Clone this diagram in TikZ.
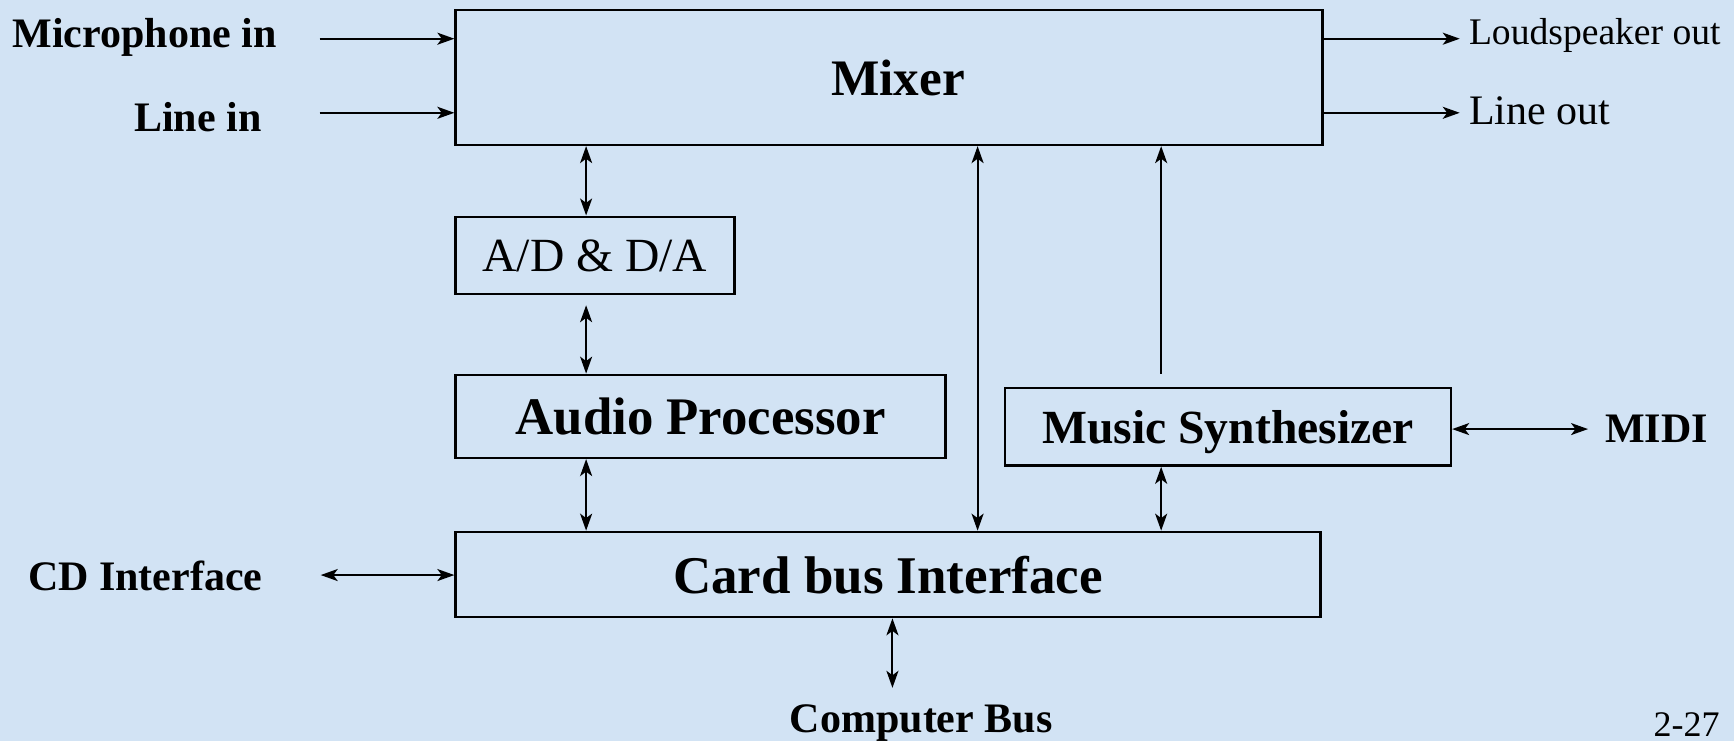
\documentclass[tikz,border=0pt]{standalone}
\usepackage{fontspec}
\setmainfont{Liberation Serif}
\usetikzlibrary{arrows.meta}
\definecolor{bgblue}{RGB}{210,227,244}
\newcommand\pxu[1]{#1*0.55293pt}
\newcommand\fsz[1]{\fontsize{#1}{#1}\selectfont}
\begin{document}
\begin{tikzpicture}[x=0.55293pt,y=-0.55293pt,
  blk/.style={draw=black,line width=1.25pt,inner sep=0pt,text depth=0pt,align=center},
  lbl/.style={inner sep=0pt,anchor=base west},
  arr/.style={line width=1pt,-{Stealth[length=8.5pt,width=6pt,inset=2.2pt]}},
  darr/.style={line width=1pt,{Stealth[length=8.5pt,width=6pt,inset=2.2pt]}-{Stealth[length=8.5pt,width=6pt,inset=2.2pt]}}]
\fill[bgblue] (0,0) rectangle (1568,670);
\useasboundingbox (0,0) rectangle (1568,670);
% boxes
\node[blk,minimum width={\pxu{784}},minimum height={\pxu{122}},font=\bfseries\fsz{25.6}] (mixer) at (804,70) {\hspace*{8.8pt}Mixer};
\node[blk,minimum width={\pxu{252}},minimum height={\pxu{70}},font=\fsz{23.8}] (adda) at (538,231) {A/D \& D/A};
\node[blk,minimum width={\pxu{443}},minimum height={\pxu{75}},font=\bfseries\fsz{26.4}] (ap) at (633.5,376.5) {Audio Processor};
\node[blk,minimum width={\pxu{403}},minimum height={\pxu{70}},font=\bfseries\fsz{23.8}] (ms) at (1110.5,386) {Music Synthesizer};
\node[blk,minimum width={\pxu{782}},minimum height={\pxu{77}},font=\bfseries\fsz{26.5}] (cb) at (803,519.5) {Card bus Interface};
% labels
\node[lbl,font=\bfseries\fsz{21}] (mic) at (11,43) {Microphone in};
\node[lbl,font=\bfseries\fsz{21}] (linein) at (121,119) {Line in};
\node[lbl,font=\fsz{18.8}] (lsout) at (1328,40.5) {Loudspeaker out};
\node[lbl,font=\fsz{21}] (lineout) at (1328,113) {Line out};
\node[lbl,font=\bfseries\fsz{21}] (midi) at (1451,400) {MIDI};
\node[lbl,font=\bfseries\fsz{21}] (cd) at (25,534) {CD Interface};
\node[lbl,font=\bfseries\fsz{21}] (cbus) at (714,662) {Computer Bus};
\node[lbl,font=\fsz{18}] (pg) at (1495,666) {2-27};
% connector end points
\coordinate (micS) at (289,35);
\coordinate (lineS) at (289,102);
\coordinate (lsE) at (1320,35);
\coordinate (loE) at (1320,102);
\coordinate (xl) at (530,0);
\coordinate (xm) at (884,0);
\coordinate (xs) at (1050,0);
\coordinate (adS) at (530,276);
\coordinate (msS) at (1050,338);
\coordinate (midiE) at (1436,388);
\coordinate (cdS) at (290,520);
\coordinate (cbusE) at (807,622);
% connectors
\draw[arr] (micS) -- (mixer.west |- micS);
\draw[arr] (lineS) -- (mixer.west |- lineS);
\draw[arr] (mixer.east |- lsE) -- (lsE);
\draw[arr] (mixer.east |- loE) -- (loE);
\draw[darr] (mixer.south -| xl) -- (adda.north -| xl);
\draw[darr] (adS) -- (ap.north -| xl);
\draw[darr] (ap.south -| xl) -- (cb.north -| xl);
\draw[darr] (mixer.south -| xm) -- (cb.north -| xm);
\draw[arr] (msS) -- (mixer.south -| xs);
\draw[darr] (ms.south -| xs) -- (cb.north -| xs);
\draw[darr] (ms.east |- midiE) -- (midiE);
\draw[darr] (cdS) -- (cb.west |- cdS);
\draw[darr] (cb.south -| cbusE) -- (cbusE);
\end{tikzpicture}
\end{document}
